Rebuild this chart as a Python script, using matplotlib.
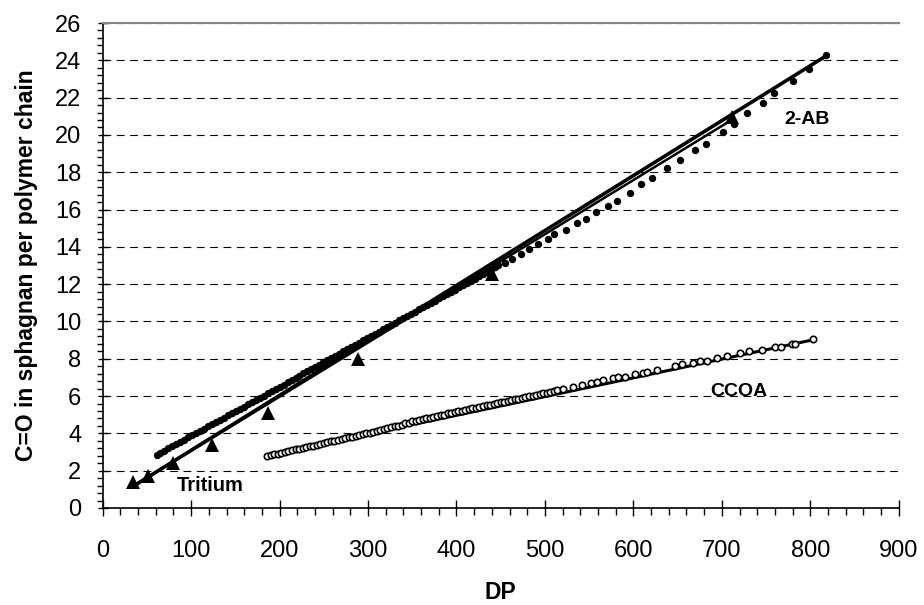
import matplotlib.pyplot as plt
from matplotlib.ticker import MultipleLocator

plt.rcParams["font.family"] = ["Liberation Sans", "DejaVu Sans"]

# --- Tritium labelling (triangles) ---
tritium_dp = [34.6, 51.6, 79.1, 123.2, 187.3, 289.0, 440.5, 711.2]
tritium_co = [1.38, 1.70, 2.40, 3.38, 5.11, 7.97, 12.54, 20.98]

# --- 2-AB labelling (filled dots) ---
ab_dp = [61, 65, 69.5, 74, 78.5, 83, 87.5, 92, 96.5, 101, 105.5, 110, 114.5,
         119, 123.5, 128, 132.5, 137, 141.5, 146, 150.5, 155, 159.5, 164,
         168.5, 173, 177.5, 182, 186.5, 191, 195.5, 200, 204.5, 209, 213.5,
         218, 222.5, 227, 231.5, 236, 240.5, 245, 249.5, 254, 258.5, 263,
         267.5, 272, 276.5, 281, 285.5, 290, 294.5, 299, 303.5, 308, 312.5,
         317, 321.5, 326, 330.5, 335, 339.5, 344, 348.5, 353, 357.5, 362,
         366.5, 371, 375.5, 380, 384.5, 389, 393.5, 398, 402.5, 407, 411.5,
         416, 420.5, 425, 429.5, 434, 438.5, 443, 447.5,
         455.0, 462.5, 472.6, 482.4, 492.6, 503.9, 510.3, 523.9, 536.6, 546.5,
         557.4, 571.7, 581.2, 596.3, 608.7, 621.5, 638.4, 652.8, 669.8, 682.2,
         701.1, 713.9, 728.2, 747.0, 759.1, 780.2, 798.7, 817.9]
ab_co = [2.85, 2.96, 3.07, 3.19, 3.31, 3.43, 3.55, 3.67, 3.78, 3.90, 4.02,
         4.14, 4.26, 4.38, 4.49, 4.61, 4.73, 4.85, 4.97, 5.09, 5.20, 5.32,
         5.44, 5.56, 5.68, 5.80, 5.91, 6.03, 6.15, 6.27, 6.39, 6.51, 6.62,
         6.74, 6.86, 6.98, 7.10, 7.22, 7.33, 7.45, 7.57, 7.69, 7.81, 7.93,
         8.04, 8.16, 8.28, 8.40, 8.52, 8.64, 8.75, 8.87, 8.99, 9.11, 9.23,
         9.35, 9.46, 9.58, 9.70, 9.82, 9.94, 10.06, 10.17, 10.29, 10.41,
         10.53, 10.65, 10.77, 10.88, 11.00, 11.12, 11.24, 11.36, 11.48, 11.59,
         11.71, 11.83, 11.95, 12.07, 12.19, 12.30, 12.42, 12.54, 12.66, 12.78,
         12.90, 13.01,
         13.15, 13.33, 13.62, 13.87, 14.15, 14.40, 14.67, 14.90, 15.26, 15.51,
         15.87, 16.21, 16.48, 16.90, 17.35, 17.71, 18.23, 18.66, 19.18, 19.53,
         20.14, 20.59, 21.19, 21.70, 22.23, 22.91, 23.52, 24.28]

# --- CCOA labelling (open circles) ---
ccoa_dp = [186, 190, 194, 198, 202, 206, 210, 214, 218, 222, 226, 230, 234,
           238, 242, 246, 250, 254, 258, 262, 266, 270, 274, 278, 282, 286,
           290, 294, 298, 302, 306, 310, 314, 318, 322, 326, 330, 334, 338,
           342, 346, 350, 354, 358, 362, 366, 370, 374, 378, 382, 386, 390,
           394, 398, 402, 406, 410, 414, 418, 422, 426, 430, 434, 438, 442,
           446, 450, 454, 458, 462, 466, 470, 474, 478, 482, 486, 490, 494,
           498, 502, 506, 510, 514,
           520.8, 532.1, 541.6, 551.8, 558.6, 566.1, 577.4, 583.0, 590.6,
           601.9, 611.3, 615.2, 626.5, 647.2, 654.7, 667.8, 675.4, 683.0,
           694.3, 705.6, 720.6, 731.2, 745.2, 760.2, 767.0, 779.1, 782.8, 803.5]
ccoa_co = [2.79, 2.83, 2.88, 2.92, 2.96, 3.01, 3.05, 3.09, 3.14, 3.18, 3.22,
           3.27, 3.31, 3.35, 3.39, 3.44, 3.48, 3.52, 3.57, 3.61, 3.65, 3.70,
           3.74, 3.78, 3.83, 3.87, 3.91, 3.96, 4.00, 4.04, 4.09, 4.13, 4.17,
           4.24, 4.28, 4.33, 4.37, 4.42, 4.47, 4.53, 4.58, 4.64, 4.69, 4.72,
           4.77, 4.81, 4.84, 4.87, 4.91, 4.96, 5.01, 5.07, 5.11, 5.15, 5.19,
           5.22, 5.26, 5.30, 5.34, 5.38, 5.42, 5.46, 5.50, 5.54, 5.58, 5.62,
           5.66, 5.70, 5.74, 5.78, 5.82, 5.86, 5.90, 5.95, 5.99, 6.03, 6.07,
           6.11, 6.15, 6.19, 6.23, 6.27, 6.31,
           6.38, 6.50, 6.59, 6.68, 6.77, 6.84, 6.95, 7.00, 7.04, 7.18, 7.25,
           7.29, 7.40, 7.63, 7.70, 7.79, 7.90, 7.88, 8.06, 8.15, 8.31, 8.41,
           8.47, 8.65, 8.61, 8.79, 8.80, 9.04]

# --- linear trend lines (end points) ---
tritium_fit_dp = [35, 711]
tritium_fit_co = [1.18, 20.80]
ab_fit_dp = [35, 818]
ab_fit_co = [1.18, 24.24]
ccoa_fit_dp = [186, 803.5]
ccoa_fit_co = [2.82, 9.02]

fig = plt.figure(figsize=(9.24, 6.05), dpi=100)
ax = fig.add_axes([102.7 / 924, 97 / 605, 796 / 924, 485 / 605])

ax.plot(ab_fit_dp, ab_fit_co, color="black", lw=2.6, zorder=3)
ax.plot(tritium_fit_dp, tritium_fit_co, color="black", lw=1.8, zorder=3)
ax.plot(ccoa_fit_dp, ccoa_fit_co, color="black", lw=2.2, zorder=3)

ax.plot(ab_dp, ab_co, "o", color="black", ms=5.3, mew=0, zorder=4)
ax.plot(ccoa_dp, ccoa_co, "o", mfc="white", mec="black", ms=4.6, mew=1.2,
        zorder=4)
ax.plot(tritium_dp, tritium_co, "^", color="black", ms=10, mew=0, zorder=5)

ax.text(771, 20.8, "2-AB", fontsize=14, fontweight="bold", va="center")
ax.text(84, 1.23, "Tritium", fontsize=14.5, fontweight="bold", va="center")
ax.text(687, 6.27, "CCOA", fontsize=14, fontweight="bold", va="center")

ax.set_xlim(0, 900)
ax.set_ylim(0, 26)
ax.xaxis.set_major_locator(MultipleLocator(100))
ax.xaxis.set_minor_locator(MultipleLocator(20))
ax.yaxis.set_major_locator(MultipleLocator(2))
ax.yaxis.set_minor_locator(MultipleLocator(0.4))

ax.tick_params(axis="x", which="major", direction="inout", length=11.5,
               width=1, labelsize=17, pad=17)
ax.tick_params(axis="x", which="minor", direction="out", length=5, width=1)
ax.tick_params(axis="y", which="major", direction="inout", length=7,
               width=1, labelsize=17, pad=12)
ax.tick_params(axis="y", which="minor", direction="out", length=4.5, width=1)

ax.grid(axis="y", which="major", color="black", lw=0.8,
        linestyle=(0, (7, 5)))
ax.set_axisbelow(True)

for side in ("left", "bottom"):
    ax.spines[side].set_linewidth(1.2)
ax.spines["right"].set_visible(False)
ax.spines["top"].set_color("#888888")
ax.spines["top"].set_linewidth(1.5)

ax.set_xlabel("DP", fontsize=16.5, fontweight="bold", labelpad=14)
ax.set_ylabel("C=O in sphagnan per polymer chain", fontsize=16.5,
              fontweight="bold", labelpad=12)

fig.savefig("out.png", dpi=100)
